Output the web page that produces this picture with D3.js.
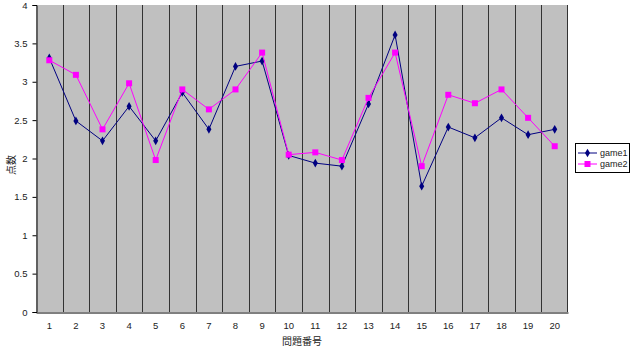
<!DOCTYPE html>
<html>
<head>
<meta charset="utf-8">
<script src="https://cdn.jsdelivr.net/npm/d3@7"></script>
<style>
  body { margin: 0; background: #fff; }
  text { font-family: "Liberation Sans", "Noto Sans CJK JP", sans-serif; fill: #222; }
</style>
</head>
<body>
<div id="chart"></div>
<script>
const categories = d3.range(1, 21)
const game1 = [3.31, 2.49, 2.23, 2.68, 2.23, 2.86, 2.38, 3.20, 3.27, 2.04,
  1.94, 1.90, 2.71, 3.61, 1.64, 2.41, 2.27, 2.53, 2.31, 2.38]
const game2 = [3.28, 3.09, 2.38, 2.98, 1.98, 2.90, 2.64, 2.90, 3.38, 2.05,
  2.08, 1.98, 2.79, 3.38, 1.90, 2.83, 2.72, 2.90, 2.53, 2.16]
const yTicks = [0, 0.5, 1, 1.5, 2, 2.5, 3, 3.5, 4]
const seriesNames = ['game1', 'game2']

const width = 635
const height = 355
const margin = { top: 5, right: 67, bottom: 43, left: 36 }

const svg = d3.select('#chart')
  .append('svg')
  .attr('width', width)
  .attr('height', height)

const x = d3.scaleBand()
  .domain(categories)
  .range([margin.left, width - margin.right])

const y = d3.scaleLinear()
  .domain([0, 4])
  .range([height - margin.bottom, margin.top])

// plot area
svg.append('rect')
  .attr('x', margin.left)
  .attr('y', margin.top)
  .attr('width', width - margin.left - margin.right)
  .attr('height', height - margin.top - margin.bottom)
  .attr('fill', '#c0c0c0')

// category separators
svg.append('g')
  .selectAll('line')
  .data(categories.slice(1).concat(['end']))
  .join('line')
  .attr('x1', d => d === 'end' ? width - margin.right - 0.5 : Math.round(x(d)) + 0.5)
  .attr('x2', d => d === 'end' ? width - margin.right - 0.5 : Math.round(x(d)) + 0.5)
  .attr('y1', margin.top)
  .attr('y2', height - margin.bottom)
  .attr('stroke', '#333')
  .attr('stroke-width', 1)

// y axis
const yAxis = svg.append('g')
  .attr('transform', `translate(${margin.left + 0.5},0)`)
  .call(d3.axisLeft(y).tickValues(yTicks).tickSize(4).tickPadding(5).tickFormat(d => d))
yAxis.select('.domain').attr('stroke', '#000')
yAxis.selectAll('text').attr('font-size', 9.5).attr('fill', '#333')

// x axis
const xAxis = svg.append('g')
  .attr('transform', `translate(0,${height - margin.bottom + 0.5})`)
  .call(d3.axisBottom(x).tickSize(0).tickPadding(10).tickSizeOuter(0))
xAxis.select('.domain').attr('stroke', '#000')
xAxis.selectAll('text').attr('font-size', 9.5).attr('fill', '#333')

// axis titles
svg.append('text')
  .attr('x', x(10) + x.bandwidth())
  .attr('y', 345)
  .attr('text-anchor', 'middle')
  .attr('font-size', 10)
  .style('font-family', '"Noto Sans CJK JP", sans-serif')
  .text('問題番号')

svg.append('text')
  .attr('transform', 'translate(15,165) rotate(-90)')
  .attr('text-anchor', 'middle')
  .attr('font-size', 10)
  .style('font-family', '"Noto Sans CJK JP", sans-serif')
  .text('点数')

const cx = d => x(d) + x.bandwidth() / 2
const line = d3.line().x((d, i) => cx(categories[i])).y(d => y(d))

// game1
svg.append('path')
  .datum(game1)
  .attr('d', line)
  .attr('fill', 'none')
  .attr('stroke', '#000080')
  .attr('stroke-width', 1)
svg.append('g')
  .selectAll('path')
  .data(game1)
  .join('path')
  .attr('d', d3.symbol(d3.symbolDiamond, 22))
  .attr('transform', (d, i) => `translate(${cx(categories[i])},${y(d)})`)
  .attr('fill', '#000080')

// game2
svg.append('path')
  .datum(game2)
  .attr('d', line)
  .attr('fill', 'none')
  .attr('stroke', '#ff00ff')
  .attr('stroke-width', 1)
svg.append('g')
  .selectAll('rect')
  .data(game2)
  .join('rect')
  .attr('x', (d, i) => cx(categories[i]) - 3)
  .attr('y', d => y(d) - 3)
  .attr('width', 6)
  .attr('height', 6)
  .attr('fill', '#ff00ff')

// legend
const legend = svg.append('g').attr('transform', 'translate(575,143)')
legend.append('rect')
  .attr('x', 0.5)
  .attr('y', 0.5)
  .attr('width', 54)
  .attr('height', 29)
  .attr('fill', '#fff')
  .attr('stroke', '#000')

const legendItems = legend.selectAll('g.item')
  .data(seriesNames)
  .join('g')
  .attr('class', 'item')
  .attr('transform', (d, i) => `translate(0,${10 + i * 11})`)

legendItems.append('line')
  .attr('x1', 3)
  .attr('x2', 22)
  .attr('stroke', (d, i) => i === 0 ? '#000080' : '#ff00ff')
legendItems.each(function (d, i) {
  const g = d3.select(this)
  if (i === 0) {
    g.append('path').attr('d', d3.symbol(d3.symbolDiamond, 22)).attr('transform', 'translate(12.5,0)').attr('fill', '#000080')
  } else {
    g.append('rect').attr('x', 9.5).attr('y', -3).attr('width', 6).attr('height', 6).attr('fill', '#ff00ff')
  }
})
legendItems.append('text')
  .attr('x', 25)
  .attr('dy', '0.35em')
  .attr('font-size', 9)
  .text(d => d)
</script>
</body>
</html>
